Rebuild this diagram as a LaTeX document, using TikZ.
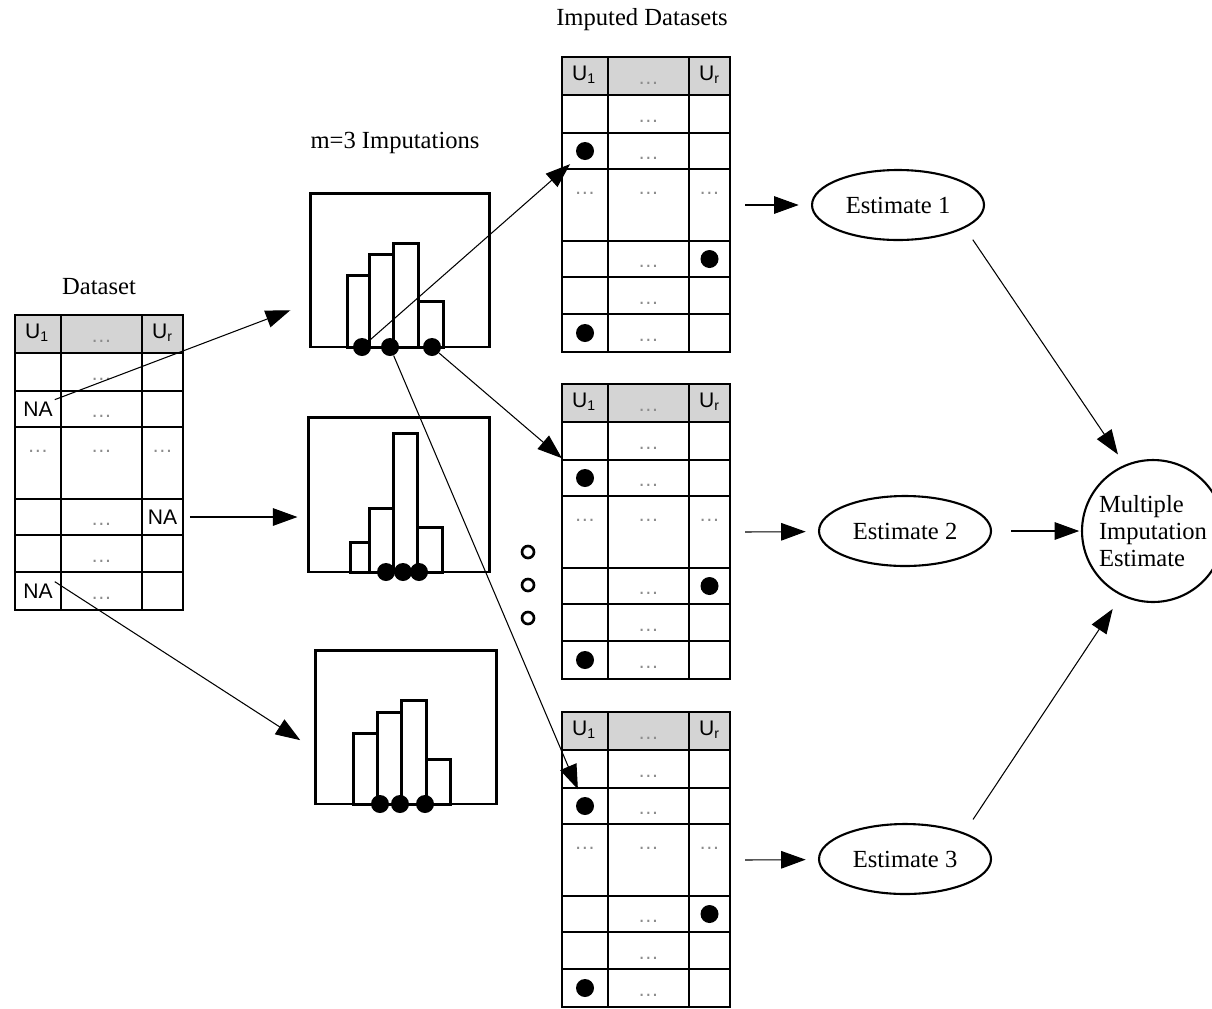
\documentclass[tikz,border=0pt]{standalone}
\usepackage{fontspec}
\setmainfont{Liberation Serif}
\setsansfont{Liberation Sans}
\usetikzlibrary{arrows.meta, shapes.geometric}
\NewDocumentCommand{\datatable}{m m m m m}{%
  \begin{scope}[shift={(#2,#3)}]
    \fill[headfill] (0,0) rectangle (168,38);
    \draw[grid line] (46,0) -- (46,295) (127,0) -- (127,295);
    \foreach \r in {76,112,184,220,257}
      \draw[grid line] (0,\r) -- (168,\r);
    \draw[frame line] (0,38) -- (168,38) (0,0) rectangle (168,295);
    \node[cell] at (22,18) {U\textsubscript{1}};
    \node[cell] at (147.5,18) {U\textsubscript{r}};
    \foreach \y in {26,64,101,209,246,283}
      \node[filler] at (86.5,\y) {\ldots};
    \node[filler] at (23,136) {\ldots};
    \node[filler] at (86.5,136) {\ldots};
    \node[filler] at (147.5,136) {\ldots};
    \node[#4] (#1-a) at (23,94) {#5};
    \node[#4] (#1-b) at (147.5,202) {#5};
    \node[#4] (#1-c) at (23,276) {#5};
    \coordinate (#1-out) at (183,148);
  \end{scope}}

\begin{document}
\begin{tikzpicture}[x=0.02cm, y=-0.02cm,
    every node/.style={font=\fontsize{14}{15.5}\selectfont},
    headfill/.style={fill=black!17},
    grid line/.style={line width=0.9pt},
    frame line/.style={line width=1.5pt},
    cell/.style={font=\sffamily\fontsize{12}{14}\selectfont, inner sep=1pt},
    filler/.style={font=\sffamily\fontsize{12}{14}\selectfont, text=black!45, inner sep=0pt},
    na/.style={cell},
    fulldot/.style={circle, fill, inner sep=0pt, minimum size=0.36cm},
    opendot/.style={circle, draw, line width=1.5pt, inner sep=0pt, minimum size=0.24cm},
    histbox/.style={draw, line width=1.7pt, inner sep=0pt, outer sep=0pt},
    bar/.style={line width=1.7pt},
    estimate/.style={ellipse, draw, line width=1.2pt, minimum width=3.44cm, minimum height=1.4cm},
    result/.style={circle, draw, line width=1.2pt, minimum size=2.84cm, inner sep=0pt, align=left},
    arr/.style={-{Triangle[length=14pt,width=10pt]}, line width=0.6pt}]
    \useasboundingbox (0,0) rectangle (1212,1008);

    \node (dslabel) at (99,287) {Dataset};
    \node (implabel) at (395,143) {m=3 Imputations};
    \node (tlabel) at (642,20) {Imputed Datasets};

    \datatable{ds}{15}{315}{na}{NA}
    \datatable{t1}{562}{57}{fulldot}{}
    \datatable{t2}{562}{384}{fulldot}{}
    \datatable{t3}{562}{712}{fulldot}{}

    \draw[bar] (347,347) rectangle (369,275) (369,347) rectangle (393,254)
      (393,347) rectangle (418,243) (418,347) rectangle (443,301);
    \draw[bar] (350,572) rectangle (369,542) (369,572) rectangle (393,508)
      (393,572) rectangle (417,433) (417,572) rectangle (442,527);
    \draw[bar] (353,804) rectangle (377,733) (377,804) rectangle (401,712)
      (401,804) rectangle (426,700) (426,804) rectangle (450,759);
    \node[histbox, minimum width=3.6cm, minimum height=3.08cm] (h1) at (400,270) {};
    \node[histbox, minimum width=3.64cm, minimum height=3.1cm] (h2) at (399,494.5) {};
    \node[histbox, minimum width=3.64cm, minimum height=3.08cm] (h3) at (406,727) {};
    \node[fulldot] (h1-a) at (362,347) {};
    \node[fulldot] (h1-b) at (390,347) {};
    \node[fulldot] (h1-c) at (432,347) {};
    \node[fulldot] (h2-a) at (386,572) {};
    \node[fulldot] (h2-b) at (403,572) {};
    \node[fulldot] (h2-c) at (419,572) {};
    \node[fulldot] (h3-a) at (380,804) {};
    \node[fulldot] (h3-b) at (400,804) {};
    \node[fulldot] (h3-c) at (425,804) {};

    \node[opendot] (o1) at (528,552) {};
    \node[opendot] (o2) at (528,585) {};
    \node[opendot] (o3) at (528,618) {};

    \node[estimate] (e1) at (898,205) {Estimate 1};
    \node[estimate] (e2) at (905,531) {Estimate 2};
    \node[estimate] (e3) at (905,859) {Estimate 3};
    \node[result] (mi) at (1153,531) {Multiple\\Imputation\\Estimate};

    \path[arr] (ds-a.north east) edge[shorten >=12pt] (h1.200);
    \path[arr] (ds-b.east) edge[shorten <=6pt, shorten >=6pt] (ds-b.east -| h2.west);
    \path[arr] (ds-c.north east) edge[shorten >=10pt] (h3.194);
    \path[arr] (h1-a) edge[shorten >=6pt] (t1-a);
    \path[arr] (h1-c) edge[shorten >=12pt] (t2-a);
    \path[arr] (h1-b) edge[shorten >=5pt] (t3-a);
    \path[arr] (t1-out) edge[shorten >=7pt] (e1);
    \path[arr] (t2-out) edge[shorten >=7pt] (e2);
    \path[arr] (t3-out) edge[shorten >=7pt] (e3);
    \path[arr] (e1.-19) edge[shorten <=8pt, shorten >=7pt] (mi.113);
    \path[arr] (e2) edge[shorten <=11pt, shorten >=1pt] (mi);
    \path[arr] (e3.24) edge[shorten <=9pt, shorten >=9pt] (mi.244);
\end{tikzpicture}
\end{document}
